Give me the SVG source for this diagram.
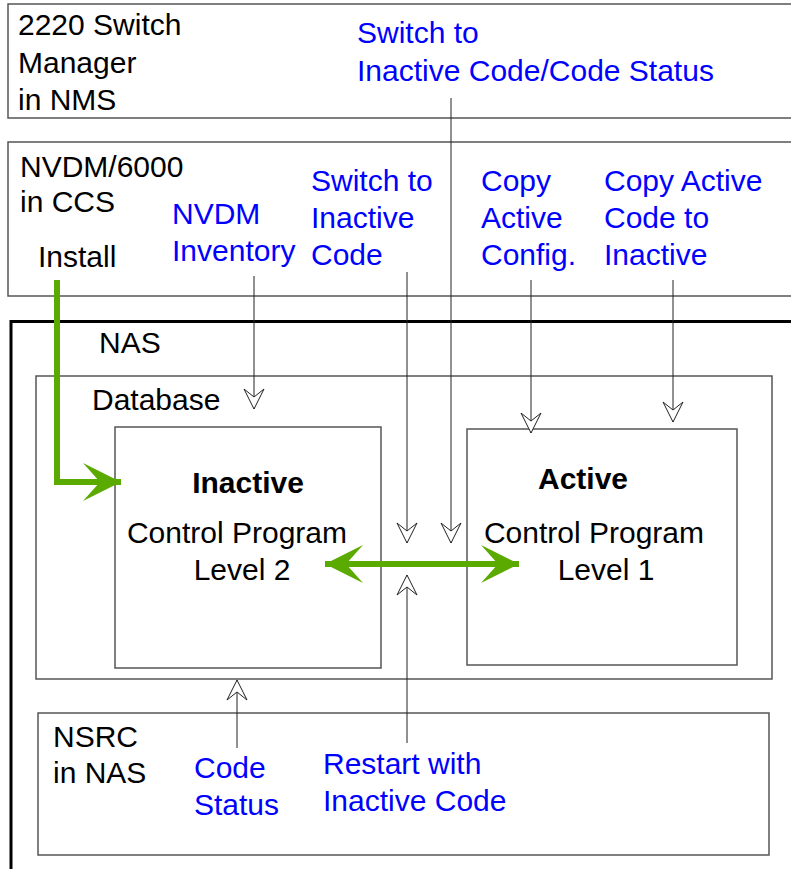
<svg xmlns="http://www.w3.org/2000/svg" width="791" height="869" viewBox="0 0 791 869">
<style>
text{font-family:"Liberation Sans",Arial,sans-serif;font-size:30px;fill:#000}
.b{fill:#0000ff}
.bold{font-weight:bold}
.box{fill:none;stroke:#555;stroke-width:1.5}
.con{fill:none;stroke:#222;stroke-width:1}
.green{fill:none;stroke:#5aaa00;stroke-width:6}
</style>
<defs>
<marker id="hollow" markerUnits="userSpaceOnUse" markerWidth="22" markerHeight="22" refX="20" refY="10" orient="auto" overflow="visible">
<path d="M0,0 L20,10 L0,20 L8,10 Z" fill="#fff" stroke="#222" stroke-width="1"/>
</marker>
<marker id="garrow" markerUnits="userSpaceOnUse" markerWidth="40" markerHeight="40" refX="38" refY="19" orient="auto-start-reverse" overflow="visible">
<path d="M0,0 L38,19 L0,38 L17,19 Z" fill="#5aaa00"/>
</marker>
</defs>
<rect width="791" height="869" fill="#fff"/>
<g id="nms">
<rect class="box" x="8" y="4" width="800" height="114"/>
<text x="18" y="35">2220 Switch</text>
<text x="18" y="73">Manager</text>
<text x="18" y="110">in NMS</text>
<text class="b" x="357" y="43">Switch to</text>
<text class="b" x="357" y="81">Inactive Code/Code Status</text>
</g>
<g id="ccs">
<rect class="box" x="8" y="142" width="800" height="154"/>
<text x="20" y="177">NVDM/6000</text>
<text x="20" y="212">in CCS</text>
<text x="38" y="267">Install</text>
<text class="b" x="172" y="224">NVDM</text>
<text class="b" x="172" y="261">Inventory</text>
<text class="b" x="311" y="191">Switch to</text>
<text class="b" x="311" y="228">Inactive</text>
<text class="b" x="311" y="265">Code</text>
<text class="b" x="481" y="191">Copy</text>
<text class="b" x="481" y="228">Active</text>
<text class="b" x="481" y="265">Config.</text>
<text class="b" x="604" y="191">Copy Active</text>
<text class="b" x="604" y="228">Code to</text>
<text class="b" x="604" y="265">Inactive</text>
</g>
<g id="nas">
<rect x="11" y="321.5" width="800" height="560" fill="none" stroke="#000" stroke-width="3"/>
<text x="99" y="353">NAS</text>
</g>
<g id="database">
<rect class="box" x="36" y="376" width="736" height="303"/>
<text x="92" y="410">Database</text>
</g>
<g id="inactive">
<rect class="box" x="115" y="427" width="266" height="241"/>
<text class="bold" x="248" y="493" text-anchor="middle">Inactive</text>
<text x="237" y="543" text-anchor="middle">Control Program</text>
<text x="242" y="580" text-anchor="middle">Level 2</text>
</g>
<g id="active">
<rect class="box" x="467" y="429" width="270" height="236"/>
<text class="bold" x="583" y="489" text-anchor="middle">Active</text>
<text x="594" y="543" text-anchor="middle">Control Program</text>
<text x="606" y="580" text-anchor="middle">Level 1</text>
</g>
<g id="nsrc">
<rect class="box" x="38" y="713" width="731" height="142"/>
<text x="53" y="747">NSRC</text>
<text x="53" y="783">in NAS</text>
<text class="b" x="194" y="778">Code</text>
<text class="b" x="194" y="815">Status</text>
<text class="b" x="323" y="774">Restart with</text>
<text class="b" x="323" y="811">Inactive Code</text>
</g>
<g id="connectors">
<path class="con" d="M451,98 V543" marker-end="url(#hollow)"/>
<path class="con" d="M254,276 V409" marker-end="url(#hollow)"/>
<path class="con" d="M407,272 V543" marker-end="url(#hollow)"/>
<path class="con" d="M531,280 V433" marker-end="url(#hollow)"/>
<path class="con" d="M673,280 V422" marker-end="url(#hollow)"/>
<path class="con" d="M407,743 V575" marker-end="url(#hollow)"/>
<path class="con" d="M237,748 V680" marker-end="url(#hollow)"/>
<path class="green" d="M57,280 V482 H121" marker-end="url(#garrow)"/>
<path class="green" d="M325,564 H519" marker-start="url(#garrow)" marker-end="url(#garrow)"/>
</g>
</svg>
